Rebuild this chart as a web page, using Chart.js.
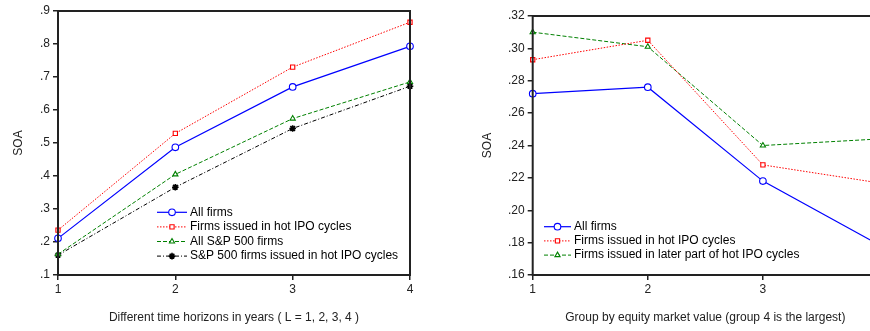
<!DOCTYPE html>
<html><head><meta charset="utf-8">
<script src="https://cdn.jsdelivr.net/npm/chart.js@4/dist/chart.umd.min.js"></script>
<style>
html,body{margin:0;padding:0;width:870px;height:331px;overflow:hidden;background:#fff;}
#w1{position:absolute;left:0;top:0;width:440px;height:331px;}
#w2{position:absolute;left:440px;top:0;width:470px;height:331px;}
</style></head><body>
<div id="w1"><canvas id="c1"></canvas></div>
<div id="w2"><canvas id="c2"></canvas></div>
<script>
// ---- Left panel data ----
const horizons = ['1', '2', '3', '4'];
const allFirms = [0.211, 0.487, 0.670, 0.793];
const hotIPOFirms = [0.236, 0.529, 0.730, 0.866];
const allSP500 = [0.163, 0.405, 0.574, 0.685];
const sp500HotIPO = [0.160, 0.366, 0.544, 0.672];
const leftYMin = 0.1, leftYMax = 0.9, leftYStep = 0.1;
const leftLabels = ['All firms', 'Firms issued in hot IPO cycles', 'All S&P 500 firms', 'S&P 500 firms issued in hot IPO cycles'];
const leftXTitle = 'Different time horizons in years ( L = 1, 2, 3, 4 )';

// ---- Right panel data ----
const sizeGroups = ['1', '2', '3', '4'];
const grpAllFirms = [0.272, 0.276, 0.218, 0.179];
const grpHotIPO = [0.293, 0.305, 0.228, 0.217];
const grpLaterHotIPO = [0.310, 0.301, 0.240, 0.244];
const rightYMin = 0.16, rightYMax = 0.32, rightYStep = 0.02;
const rightLabels = ['All firms', 'Firms issued in hot IPO cycles', 'Firms issued in later part of hot IPO cycles'];
const rightXTitle = 'Group by equity market value (group 4 is the largest)';
const yTitle = 'SOA';

const FONT = '"Liberation Sans", Arial, sans-serif';
Chart.defaults.font.family = FONT;
Chart.defaults.font.size = 12;
Chart.defaults.color = '#222';

const styles = [
  {borderColor:'#0000ff', borderDash:[], pointStyle:'circle', pointRadius:3.3, width:1.2},
  {borderColor:'#ff0000', borderDash:[1.5,1.5], pointStyle:'rect', pointRadius:3, width:1},
  {borderColor:'#008000', borderDash:[4,2], pointStyle:'triangle', pointRadius:3, width:1},
  {borderColor:'#000000', borderDash:[4,2,1,2], pointStyle:'star', pointRadius:3.3, width:1}
];

function makeDatasets(labels, series){
  return series.map((d,i)=>({
    label: labels[i], data: d,
    borderColor: styles[i].borderColor, borderDash: styles[i].borderDash,
    borderWidth: styles[i].width, pointStyle: styles[i].pointStyle, pointRadius: styles[i].pointRadius,
    pointBackgroundColor: '#fff', pointBorderColor: styles[i].borderColor,
    pointBorderWidth: i===3 ? 1.6 : 1.1, tension: 0, fill: false
  }));
}

const frame = {
  id:'frame',
  afterDraw(chart){
    const {ctx, chartArea:a} = chart;
    ctx.save();
    ctx.strokeStyle = '#222'; ctx.lineWidth = 2;
    ctx.strokeRect(a.left, a.top, a.right - a.left, a.bottom - a.top);
    ctx.restore();
  }
};

const insideLegend = {
  id:'insideLegend',
  afterDraw(chart, args, o){
    if (!o || o.x === undefined) return;
    const ctx = chart.ctx;
    ctx.save();
    ctx.font = '12px ' + FONT;
    chart.data.datasets.forEach((ds,i)=>{
      const y = o.y + i*o.rowH;
      const x0 = o.x, x1 = o.x + o.lineLen;
      ctx.strokeStyle = ds.borderColor; ctx.lineWidth = ds.borderWidth;
      ctx.setLineDash(ds.borderDash || []);
      ctx.beginPath(); ctx.moveTo(x0, y); ctx.lineTo(x1, y); ctx.stroke();
      ctx.setLineDash([]);
      ctx.fillStyle = '#fff'; ctx.strokeStyle = ds.borderColor; ctx.lineWidth = ds.pointBorderWidth;
      Chart.helpers.drawPoint(ctx, {pointStyle: ds.pointStyle, radius: ds.pointRadius, borderWidth: ds.pointBorderWidth, rotation: 0}, (x0+x1)/2, y);
      ctx.fillStyle = '#000'; ctx.textBaseline = 'middle'; ctx.textAlign = 'left';
      ctx.fillText(ds.label, x1 + o.gap, y);
    });
    ctx.restore();
  }
};

function makeChart(id, cats, datasets, yMin, yMax, yStep, fmt, xTitle, pad, yWidth, yTitlePad, legendOpts){
  return new Chart(document.getElementById(id), {
    type: 'line',
    data: {labels: cats, datasets},
    options: {
      responsive: true, maintainAspectRatio: false, animation: false,
      layout: {padding: pad},
      plugins: {legend:{display:false}, tooltip:{enabled:false}, insideLegend: legendOpts},
      scales: {
        x: {
          offset: false,
          grid: {display:true, drawOnChartArea:false, drawTicks:true, tickLength:5, color:'#222', lineWidth:1.5},
          border: {display:false},
          ticks: {padding:2, color:'#222', maxRotation:0},
          title: {display:true, text:xTitle, color:'#222', padding:{top:0, bottom:6}},
          afterFit(s){ s.height = 56; }
        },
        y: {
          min: yMin, max: yMax,
          grid: {display:true, drawOnChartArea:false, drawTicks:true, tickLength:5, color:'#222', lineWidth:1.5},
          border: {display:false},
          ticks: {stepSize: yStep, padding:3, color:'#222', callback: v => fmt(v)},
          title: {display:true, text:yTitle, color:'#222', padding:{top:yTitlePad, bottom:0}},
          afterFit(s){ s.width = yWidth; }
        }
      }
    },
    plugins: [frame, insideLegend]
  });
}

makeChart('c1', horizons,
  makeDatasets(leftLabels, [allFirms, hotIPOFirms, allSP500, sp500HotIPO]),
  leftYMin, leftYMax, leftYStep,
  v => v.toFixed(1).replace(/^0/, ''),
  leftXTitle, {top:11, right:30, left:0, bottom:0}, 58, 11,
  {x:157, y:212.3, rowH:14.6, lineLen:30, gap:3});

makeChart('c2', sizeGroups,
  makeDatasets(rightLabels, [grpAllFirms, grpHotIPO, grpLaterHotIPO]),
  rightYMin, rightYMax, rightYStep,
  v => v.toFixed(2).replace(/^0/, ''),
  rightXTitle, {top:16, right:32, left:0, bottom:0}, 92.7, 40,
  {x:104, y:226.7, rowH:14.2, lineLen:27, gap:3});
</script>
</body></html>
